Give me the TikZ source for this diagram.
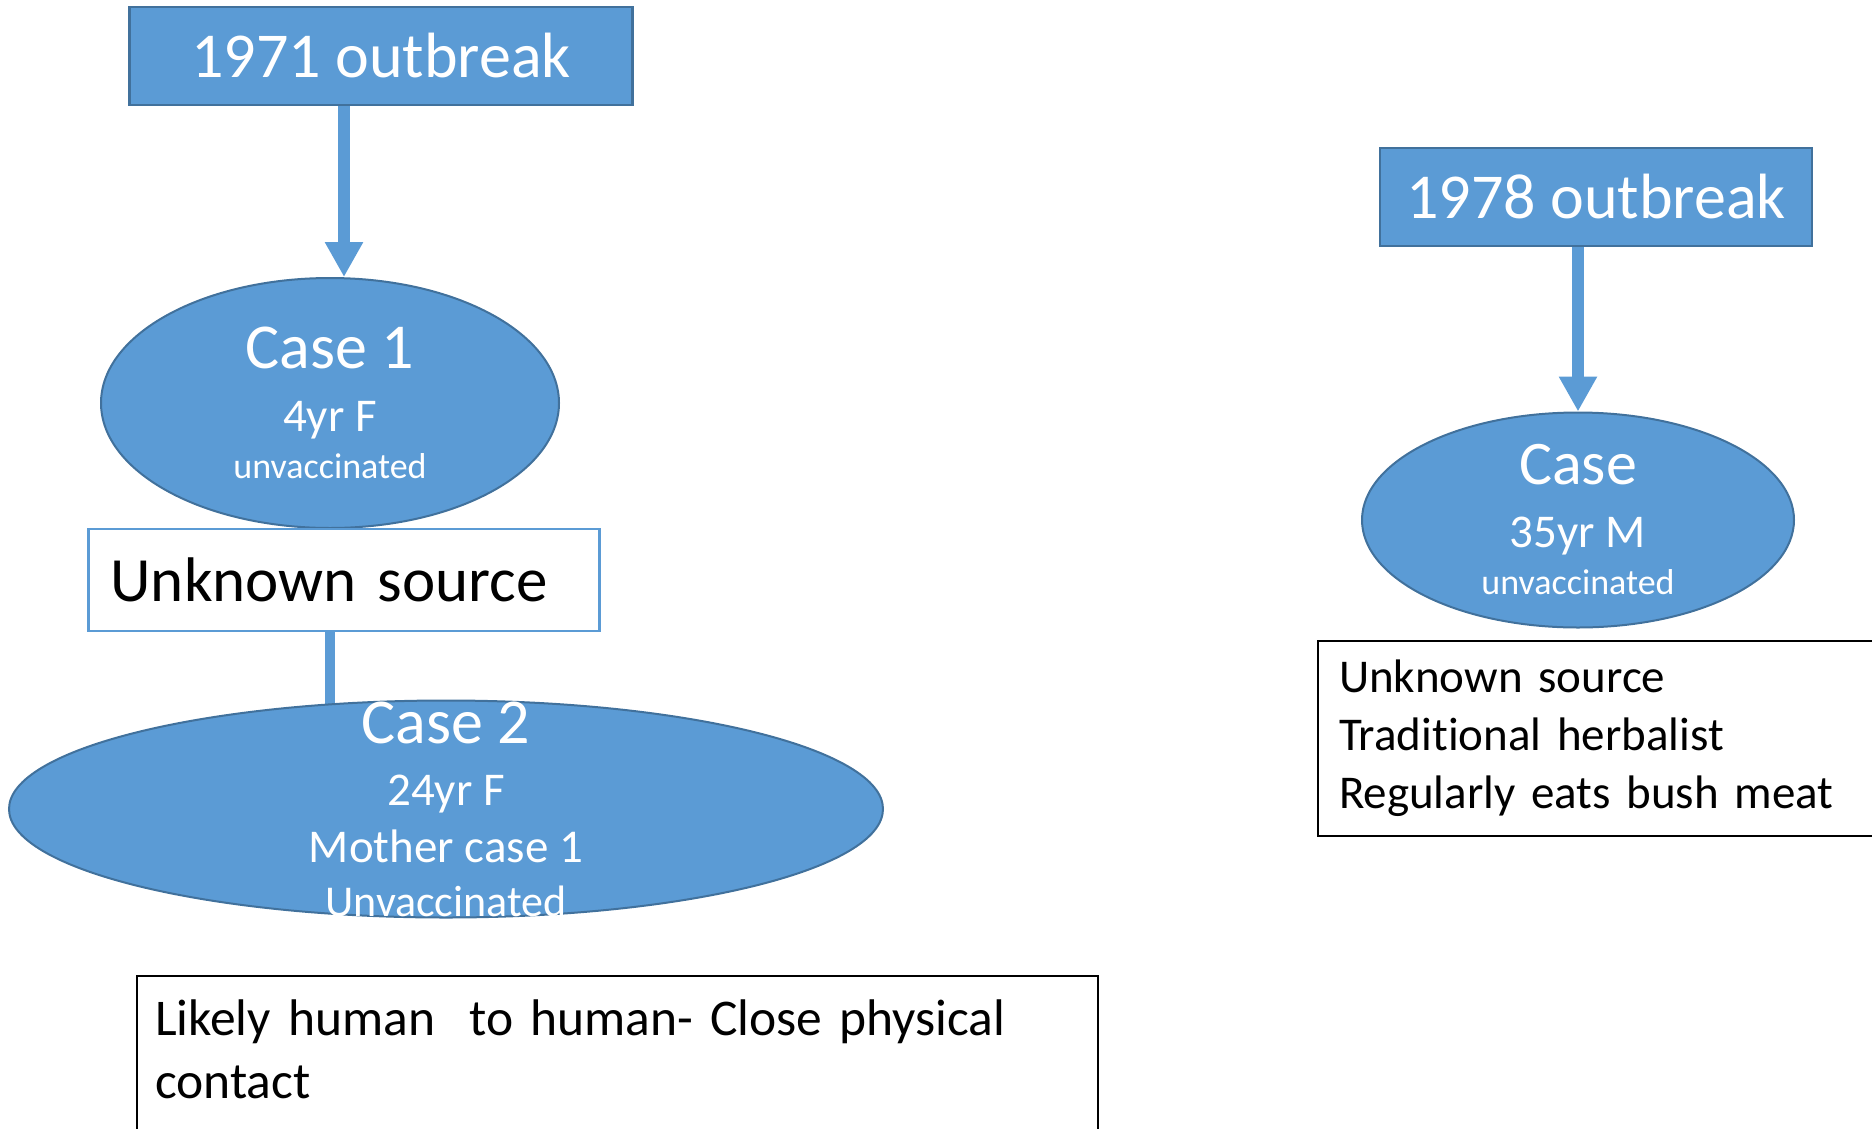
\documentclass[tikz,border=0pt]{standalone}
\usepackage{fontspec}
\setmainfont[Ligatures=NoCommon]{Carlito}
\usepackage{tikz}
\usetikzlibrary{shapes.geometric,arrows.meta,backgrounds}
\definecolor{caseblue}{HTML}{5B9BD5}
\definecolor{caseedge}{HTML}{41719C}
\newcommand\fs[1]{\fontsize{#1}{#1}\selectfont}

\begin{document}
\begin{tikzpicture}[x=1pt,y=-1pt,
  outbreak/.style={rectangle,fill=caseblue,draw=caseedge,line width=2.5pt,
    text=white,font=\fs{64},minimum height=98pt,inner sep=0pt},
  casenode/.style={ellipse,fill=caseblue,draw=caseedge,line width=2pt,
    text=white,align=center,font=\fs{47},inner xsep=0pt,inner ysep=-60pt},
  notebox/.style={rectangle,draw=black,line width=2pt,text=black,align=left,
    inner xsep=21pt},
  feed/.style={caseblue,line width=12pt,-{Triangle[width=36pt,length=35pt]}},
  link/.style={caseblue,line width=10pt}]
  \useasboundingbox (0,0) rectangle (1872,1128);
  % 1971 outbreak
  \node[outbreak,minimum width=503pt] (o71) at (381,56) {1971 outbreak};
  \node[casenode,minimum width=458pt,minimum height=250pt] (case1) at (330,403)
    {{\fs{64}Case 1}\\[16pt] 4yr F\\ {\fs{36}unvaccinated}};
  \node[rectangle,draw=caseblue,line width=2.5pt,text width=467pt,align=left,
    inner xsep=22pt,minimum height=102pt,font=\fs{63}] (unk) at (344,580)
    {Unknown source};
  \node[casenode,minimum width=874pt,minimum height=217pt] (case2) at (446,809)
    {{\fs{64}Case 2}\\[15pt] 24yr F\\[10pt] Mother case 1\\[7pt]
     {\fs{44}Unvaccinated}};
  \node[notebox,anchor=north west,text width=925pt,inner xsep=18pt,
    inner ysep=24pt,text depth=80pt,font=\fontsize{51.5}{63}\selectfont] (h2h)
    at (136,975) {Likely human\ \ to human- Close physical contact};
  % 1978 outbreak
  \node[outbreak,minimum width=432pt] (o78) at (1596,197) {1978 outbreak};
  \node[casenode,minimum width=432pt,minimum height=215pt] (case78) at (1578,520)
    {{\fs{62}Case}\\[16pt] 35yr M\\ {\fs{36}unvaccinated}};
  \node[notebox,anchor=west,text width=600pt,minimum height=195pt,
    font=\fontsize{47}{58}\selectfont] (src78) at (1317,738.5)
    {Unknown source\\ Traditional herbalist\\ Regularly eats bush meat};
  % connectors
  \draw[feed] (unk.north |- o71.south) -- (unk.north |- case1.north);
  \draw[feed] (case78.north |- o78.south) -- (case78.north);
  \begin{scope}[on background layer]
    \draw[link] (case1.south |- unk.south) -- (case1.south |- case2.center);
  \end{scope}
\end{tikzpicture}
\end{document}
